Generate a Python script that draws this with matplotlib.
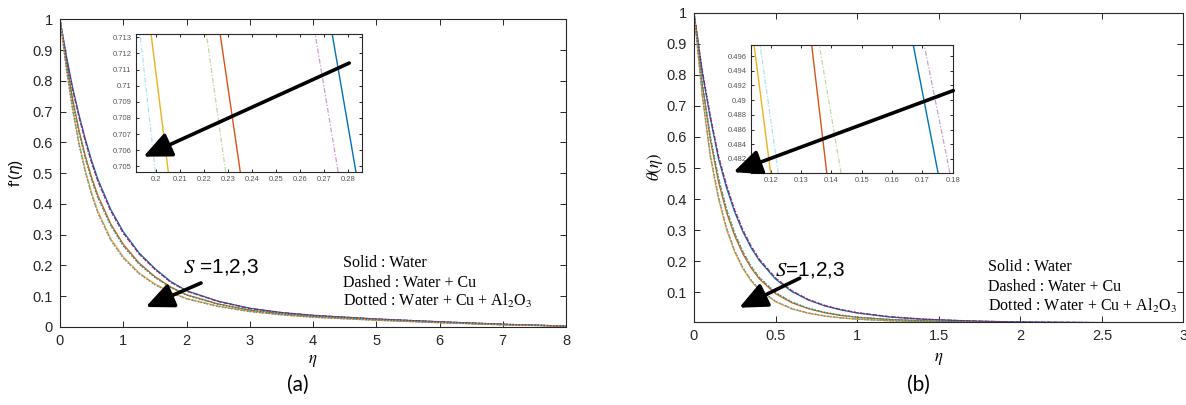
import matplotlib
matplotlib.use("Agg")
import matplotlib.pyplot as plt
from matplotlib.ticker import FuncFormatter, MultipleLocator

# ---------------- data ----------------
# (a) velocity profiles f'(eta)
eta_f = [0, 0.1, 0.2, 0.3, 0.4, 0.5, 0.6, 0.8, 1.0, 1.25, 1.5, 1.75, 2.0, 2.5, 3.0, 3.5, 4.0, 5.0, 6.0, 7.0, 8.0]
f_water_S1 = [1, 0.882, 0.778, 0.690, 0.611, 0.541, 0.480, 0.383, 0.310, 0.241, 0.190, 0.148, 0.118, 0.084, 0.061, 0.047, 0.038, 0.026, 0.017, 0.009, 0.003]
f_water_S2 = [1, 0.862, 0.740, 0.640, 0.556, 0.486, 0.427, 0.336, 0.269, 0.208, 0.164, 0.130, 0.105, 0.075, 0.055, 0.043, 0.035, 0.024, 0.015, 0.008, 0.003]
f_water_S3 = [1, 0.845, 0.711, 0.600, 0.510, 0.436, 0.376, 0.288, 0.228, 0.176, 0.140, 0.113, 0.093, 0.068, 0.051, 0.040, 0.032, 0.022, 0.014, 0.007, 0.003]
f_cu_S1 = [1, 0.876, 0.772, 0.684, 0.605, 0.535, 0.474, 0.379, 0.306, 0.238, 0.188, 0.146, 0.117, 0.083, 0.060, 0.047, 0.038, 0.026, 0.017, 0.009, 0.003]
f_cu_S2 = [1, 0.856, 0.734, 0.634, 0.550, 0.480, 0.421, 0.332, 0.265, 0.205, 0.162, 0.129, 0.104, 0.074, 0.055, 0.043, 0.035, 0.024, 0.015, 0.008, 0.003]
f_cu_S3 = [1, 0.840, 0.705, 0.594, 0.505, 0.431, 0.371, 0.284, 0.225, 0.174, 0.138, 0.112, 0.092, 0.067, 0.050, 0.040, 0.032, 0.022, 0.014, 0.007, 0.003]
f_hy_S1 = [1, 0.874, 0.769, 0.681, 0.602, 0.532, 0.471, 0.377, 0.304, 0.237, 0.187, 0.145, 0.116, 0.083, 0.060, 0.046, 0.037, 0.026, 0.017, 0.009, 0.003]
f_hy_S2 = [1, 0.854, 0.731, 0.631, 0.547, 0.477, 0.418, 0.330, 0.263, 0.204, 0.161, 0.128, 0.103, 0.074, 0.054, 0.042, 0.034, 0.024, 0.015, 0.008, 0.003]
f_hy_S3 = [1, 0.838, 0.702, 0.591, 0.502, 0.428, 0.368, 0.282, 0.223, 0.173, 0.137, 0.111, 0.091, 0.066, 0.050, 0.039, 0.031, 0.022, 0.014, 0.007, 0.003]

# inset (a): eta where each line crosses the bottom / top of the inset window
fin_ylim = [0.70465, 0.7132]
fin_xlim = [0.1914, 0.2856]
fin_water = [[0.2832, 0.2733], [0.2350, 0.2266], [0.2050, 0.1978]]   # S=1,2,3
fin_cu = [[0.2758, 0.2662], [0.2289, 0.2209], [0.1996, 0.1932]]

# (b) temperature profiles theta(eta)
eta_t = [0, 0.05, 0.1, 0.15, 0.2, 0.25, 0.3, 0.35, 0.4, 0.5, 0.6, 0.7, 0.8, 0.9, 1.0, 1.2, 1.4, 1.6, 1.8, 2.0, 2.5, 3.0]
t_water_S1 = [1, 0.810, 0.660, 0.530, 0.435, 0.357, 0.294, 0.243, 0.202, 0.142, 0.102, 0.075, 0.056, 0.043, 0.033, 0.020, 0.013, 0.009, 0.006, 0.004, 0.002, 0.001]
t_water_S2 = [1, 0.770, 0.592, 0.455, 0.356, 0.281, 0.223, 0.178, 0.143, 0.095, 0.066, 0.047, 0.034, 0.025, 0.019, 0.012, 0.008, 0.005, 0.003, 0.002, 0.001, 0.0005]
t_water_S3 = [1, 0.735, 0.535, 0.400, 0.300, 0.228, 0.175, 0.136, 0.107, 0.069, 0.046, 0.032, 0.023, 0.017, 0.013, 0.008, 0.005, 0.003, 0.002, 0.0015, 0.001, 0.0005]
t_cu_S1 = [1, 0.815, 0.666, 0.537, 0.442, 0.363, 0.299, 0.247, 0.206, 0.145, 0.104, 0.076, 0.057, 0.044, 0.034, 0.021, 0.013, 0.009, 0.006, 0.004, 0.002, 0.001]
t_cu_S2 = [1, 0.776, 0.600, 0.466, 0.365, 0.288, 0.229, 0.183, 0.147, 0.098, 0.068, 0.048, 0.035, 0.026, 0.019, 0.012, 0.008, 0.005, 0.003, 0.002, 0.001, 0.0005]
t_cu_S3 = [1, 0.738, 0.540, 0.406, 0.305, 0.232, 0.178, 0.138, 0.109, 0.070, 0.047, 0.033, 0.024, 0.017, 0.013, 0.008, 0.005, 0.003, 0.002, 0.0015, 0.001, 0.0005]
t_hy_S1 = [1, 0.817, 0.669, 0.540, 0.445, 0.366, 0.301, 0.249, 0.207, 0.146, 0.105, 0.077, 0.058, 0.044, 0.034, 0.021, 0.014, 0.009, 0.006, 0.004, 0.002, 0.001]
t_hy_S2 = [1, 0.778, 0.603, 0.469, 0.368, 0.290, 0.231, 0.184, 0.148, 0.099, 0.068, 0.049, 0.035, 0.026, 0.020, 0.012, 0.008, 0.005, 0.003, 0.002, 0.001, 0.0005]
t_hy_S3 = [1, 0.740, 0.543, 0.409, 0.307, 0.234, 0.179, 0.139, 0.110, 0.071, 0.047, 0.033, 0.024, 0.018, 0.013, 0.008, 0.005, 0.003, 0.002, 0.0015, 0.001, 0.0005]

# inset (b)
tin_ylim = [0.48005, 0.4975]
tin_xlim = [0.1135, 0.1802]
tin_water = [[0.1752, 0.1670], [0.1385, 0.1335], [0.1200, 0.1145]]
tin_cu = [[0.1791, 0.1706], [0.1432, 0.1360], [0.1225, 0.1165]]

legend_lines = ["Solid : Water", "Dashed : Water + Cu", r"Dotted : Water + Cu + Al$_2$O$_3$"]
s_label = r"$S$ =1,2,3"
s_label_b = r"$S$=1,2,3"

# ---------------- styling ----------------
C = ['#0072BD', '#D95319', '#EDB120', '#7E2F8E', '#77AC30', '#4DBEEE', '#A2142F']
water_c = [C[0], C[1], C[2]]
cu_c = [C[3], C[4], C[5]]
hy_c = [C[6], C[0], C[1]]
SPINE = '#262626'
SANS = ['Liberation Sans', 'DejaVu Sans']
SERIF = ['Liberation Serif', 'DejaVu Serif']

plt.rcParams['font.family'] = SANS
fmt = FuncFormatter(lambda v, p: ('%g' % round(v, 6)))

W, H = 1186, 405
fig = plt.figure(figsize=(W / 100, H / 100), dpi=100)


def px_axes(x0, y0, x1, y1):
    return fig.add_axes([x0 / W, 1 - y1 / H, (x1 - x0) / W, (y1 - y0) / H])


def style(ax, size=10.5, length=4, pad=5, color='#262626'):
    for s in ax.spines.values():
        s.set_color(SPINE)
        s.set_linewidth(0.8)
    ax.tick_params(direction='in', top=True, right=True, length=length, width=0.7,
                   labelsize=size, pad=pad, colors=SPINE, labelcolor=color)
    ax.xaxis.set_major_formatter(fmt)
    ax.yaxis.set_major_formatter(fmt)


def draw_main(ax, x, water, cu, hy):
    for ys, c in zip(water, water_c):
        ax.plot(x, ys, color=c, lw=0.9, ls='-')
    for ys, c in zip(cu, cu_c):
        ax.plot(x, ys, color=c, lw=0.9, ls=(0, (3, 2)))
    for ys, c in zip(hy, hy_c):
        ax.plot(x, ys, color=c, lw=0.9, ls=(0, (1, 1.5)), alpha=0.8)


def draw_inset(ax, ylim, water, cu):
    for (xb, xt), c in zip(water, water_c):
        ax.plot([xb, xt], ylim, color=c, lw=1.0, ls='-')
    for (xb, xt), c in zip(cu, cu_c):
        ax.plot([xb, xt], ylim, color=c, lw=0.9, ls=(0, (4, 1.5, 1, 1.5)), alpha=0.45)


arrow_kw = dict(arrowstyle='-|>,head_length=0.85,head_width=0.38', lw=2.6, color='k',
                mutation_scale=20, shrinkA=0, shrinkB=0)

# ---------------- panel (a) ----------------
axa = px_axes(60, 19.3, 566, 327)
draw_main(axa, eta_f, [f_water_S1, f_water_S2, f_water_S3],
          [f_cu_S1, f_cu_S2, f_cu_S3], [f_hy_S1, f_hy_S2, f_hy_S3])
axa.set_xlim(0, 8)
axa.set_ylim(0, 1)
axa.xaxis.set_major_locator(MultipleLocator(1))
axa.yaxis.set_major_locator(MultipleLocator(0.1))
style(axa)
axa.set_ylabel(r"f'($\eta$)", fontsize=11)
axa.yaxis.set_label_coords(-0.07, 0.5)
axa.set_xlabel(r"$\eta$", fontsize=12, math_fontfamily='stix')
axa.xaxis.set_label_coords(0.5, -0.085)
axa.text(1.94, 0.195, s_label, fontsize=15, va='center', ha='left',
         family=SANS, math_fontfamily='stix')
axa.annotate('', xy=(1.355, 0.065), xytext=(2.23, 0.143), arrowprops=arrow_kw)
for yv, t in zip([0.208, 0.143, 0.084], legend_lines):
    axa.text(4.47, yv, t, fontsize=11.5, va='center', ha='left', family=SERIF,
             math_fontfamily='stix')

ina = px_axes(135.7, 34, 361.7, 172)
draw_inset(ina, fin_ylim, fin_water, fin_cu)
ina.set_xlim(*fin_xlim)
ina.set_ylim(*fin_ylim)
ina.xaxis.set_major_locator(MultipleLocator(0.01))
ina.yaxis.set_major_locator(MultipleLocator(0.001))
style(ina, size=5.5, length=2.5, pad=3, color='#555555')
ina.annotate('', xy=(0.1946, 0.7056), xytext=(0.2804, 0.7114), arrowprops=arrow_kw,
             annotation_clip=False)

# ---------------- panel (b) ----------------
axb = px_axes(694, 12.7, 1183.5, 322)
draw_main(axb, eta_t, [t_water_S1, t_water_S2, t_water_S3],
          [t_cu_S1, t_cu_S2, t_cu_S3], [t_hy_S1, t_hy_S2, t_hy_S3])
axb.set_xlim(0, 3)
axb.set_ylim(0.004, 1)
axb.xaxis.set_major_locator(MultipleLocator(0.5))
axb.set_yticks([0.1, 0.2, 0.3, 0.4, 0.5, 0.6, 0.7, 0.8, 0.9, 1.0])
style(axb)
axb.set_ylabel(r"$\theta(\eta)$", fontsize=12, math_fontfamily='stix')
axb.yaxis.set_label_coords(-0.06, 0.5)
axb.set_xlabel(r"$\eta$", fontsize=12, math_fontfamily='stix')
axb.xaxis.set_label_coords(0.5, -0.095)
axb.text(0.495, 0.17, s_label_b, fontsize=15, va='center', ha='left',
         family=SANS, math_fontfamily='stix')
axb.annotate('', xy=(0.277, 0.05), xytext=(0.648, 0.145), arrowprops=arrow_kw)
for yv, t in zip([0.181, 0.118, 0.057], legend_lines):
    axb.text(1.80, yv, t, fontsize=11.5, va='center', ha='left', family=SERIF,
             math_fontfamily='stix')

inb = px_axes(751, 45, 953.3, 173.3)
draw_inset(inb, tin_ylim, tin_water, tin_cu)
inb.set_xlim(*tin_xlim)
inb.set_ylim(*tin_ylim)
inb.xaxis.set_major_locator(MultipleLocator(0.01))
inb.yaxis.set_major_locator(MultipleLocator(0.002))
style(inb, size=5.5, length=2.5, pad=3, color='#555555')
inb.annotate('', xy=(0.1077, 0.4802), xytext=(0.1802, 0.4913), arrowprops=arrow_kw,
             annotation_clip=False)

# ---------------- captions ----------------
fig.text(298 / W, 1 - 385 / H, '(a)', fontsize=15, ha='center', va='center',
         family=['Lato', 'DejaVu Sans'])
fig.text(918 / W, 1 - 385 / H, '(b)', fontsize=15, ha='center', va='center',
         family=['Lato', 'DejaVu Sans'])

fig.savefig('out.png', dpi=100)
